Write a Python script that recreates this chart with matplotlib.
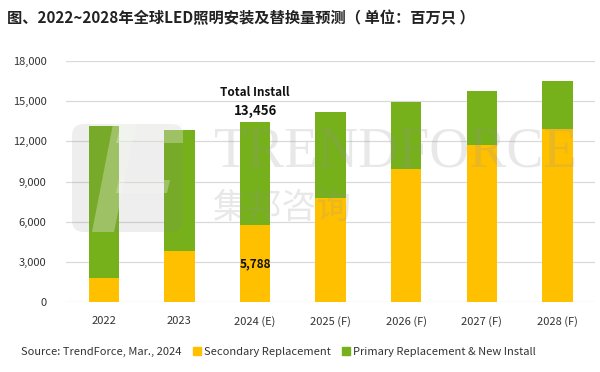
import matplotlib
matplotlib.use("Agg")
import matplotlib.pyplot as plt
from matplotlib.patches import Patch, FancyBboxPatch, Polygon

plt.rcParams['font.family'] = ['Noto Sans CJK SC', 'DejaVu Sans']

years = ["2022", "2023", "2024 (E)", "2025 (F)", "2026 (F)", "2027 (F)", "2028 (F)"]
secondary = [1800, 3840, 5788, 7800, 9950, 11720, 12900]
total = [13150, 12830, 13456, 14190, 14960, 15730, 16500]
primary = [t - s for t, s in zip(total, secondary)]

yellow = "#FFC000"
green = "#76B01B"

fig = plt.figure(figsize=(6, 3.72), dpi=100)
ax = fig.add_axes([0.11, 0.188, 0.882, 0.648])

x = range(len(years))
ax.bar(x, secondary, width=0.4, color=yellow, zorder=3)
ax.bar(x, primary, width=0.4, bottom=secondary, color=green, zorder=3)

# watermark logo (faint overlay, pixel coords from bottom-left)
logo = FancyBboxPatch((72, 140), 111, 108, boxstyle="round,pad=0,rounding_size=12",
                      transform=None, facecolor="#8a8a8a", alpha=0.14,
                      edgecolor="none", zorder=4)
fig.patches.append(logo)
for pts in ([(121, 248), (183, 248), (183, 229), (116, 229)],
            [(113, 248), (136, 248), (114, 140), (92, 140)],
            [(119, 192), (170, 192), (167, 179), (116, 179)]):
    fig.patches.append(Polygon(pts, closed=True, transform=None,
                               facecolor="#f6f9ee", alpha=0.3,
                               edgecolor="none", zorder=5))
fig.text(0.66, 0.59, "TRENDFORCE", fontsize=40, family="Liberation Serif",
         color="#999999", alpha=0.22, ha="center", va="center", zorder=6)
fig.text(0.47, 0.44, "集邦咨询", fontsize=25, color="#999999", alpha=0.22,
         ha="center", va="center", zorder=6)

ax.set_ylim(0, 18000)
ax.set_xlim(-0.5, len(years) - 0.5)
ax.set_yticks(range(0, 18001, 3000))
ax.set_yticklabels([f"{v:,}" for v in range(0, 18001, 3000)])
ax.set_xticks(list(x))
ax.set_xticklabels(years)
ax.tick_params(axis="both", length=0, labelsize=8, colors="#333333")
ax.tick_params(axis="x", pad=10)
ax.tick_params(axis="y", pad=14)
ax.grid(axis="y", color="#d9d9d9", linewidth=0.9, zorder=0)
for s in ax.spines.values():
    s.set_visible(False)

ax.text(2, 15650, "Total Install", ha="center", va="center", fontsize=8.5,
        fontweight="bold", color="#111111")
ax.text(2, 14250, f"{total[2]:,}", ha="center", va="center", fontsize=9.5,
        fontweight="bold", color="#111111")
ax.text(2, 2850, f"{secondary[2]:,}", ha="center", va="center", fontsize=8.5,
        fontweight="bold", color="#111111")

fig.text(0.012, 0.952, "图、2022~2028年全球LED照明安装及替换量预测（ 单位：百万只 ）",
         fontsize=11, fontweight="bold", color="#222222", va="center")

fig.text(0.035, 0.055, "Source: TrendForce, Mar., 2024", fontsize=8,
         color="#333333", va="center")
handles = [Patch(color=yellow, label="Secondary Replacement"),
           Patch(color=green, label="Primary Replacement & New Install")]
fig.legend(handles=handles, loc="center left", bbox_to_anchor=(0.305, 0.055),
           ncol=2, frameon=False, fontsize=8, handlelength=0.7,
           handleheight=0.7, handletextpad=0.3, columnspacing=1.0,
           labelcolor="#333333")

fig.savefig("out.png", dpi=100)
